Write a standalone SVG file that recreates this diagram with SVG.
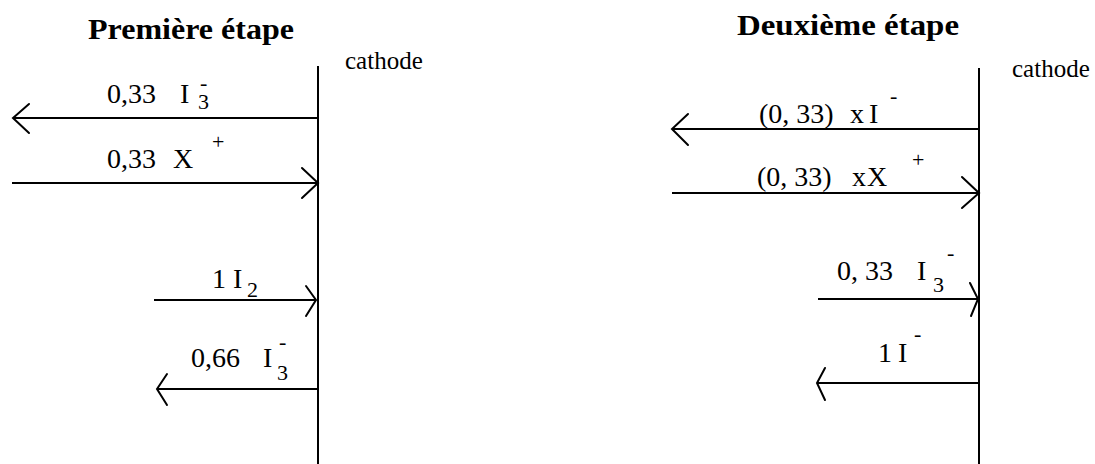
<svg xmlns="http://www.w3.org/2000/svg" width="1095" height="464" viewBox="0 0 1095 464">
<style>
text{font-family:'Liberation Serif','Times New Roman',serif;fill:#000}
.title{font-size:29px;font-weight:bold}
.cat{font-size:25px}
.lab{font-size:28px}
.s{font-size:22px}
.ln{stroke:#000;stroke-width:2;fill:none}
.hd{stroke:#000;stroke-width:2;fill:none;stroke-linecap:round;stroke-linejoin:miter}
</style>
<rect width="1095" height="464" fill="#fff"/>
<g id="stage1">
<text class="title" x="88" y="39" textLength="206" lengthAdjust="spacingAndGlyphs">Première étape</text>
<g id="cathode1">
<line class="ln" x1="318" y1="66" x2="318" y2="464"/>
<text class="cat" x="345" y="69">cathode</text>
</g>
<g id="label1a"><text class="lab"><tspan x="107" y="103">0,33</tspan><tspan x="180" y="103">I</tspan><tspan class="s" x="198" y="109">3</tspan><tspan class="s" x="200" y="90">-</tspan></text></g>
<g id="label1b"><text class="lab"><tspan x="107" y="168">0,33</tspan><tspan x="173" y="168">X</tspan><tspan class="s" x="212" y="149">+</tspan></text></g>
<g id="label1c"><text class="lab"><tspan x="212" y="288">1</tspan><tspan x="233" y="288">I</tspan><tspan class="s" x="247" y="297">2</tspan></text></g>
<g id="label1d"><text class="lab"><tspan x="191" y="367">0,66</tspan><tspan x="263" y="367">I</tspan><tspan class="s" x="277" y="380">3</tspan><tspan class="s" x="279" y="349">-</tspan></text></g>
</g>
<g id="stage2">
<text class="title" x="737" y="35" textLength="222" lengthAdjust="spacingAndGlyphs">Deuxième étape</text>
<g id="cathode2">
<line class="ln" x1="979" y1="68" x2="979" y2="464"/>
<text class="cat" x="1012" y="77">cathode</text>
</g>
<g id="label2a"><text class="lab"><tspan x="759" y="123">(0, 33)</tspan><tspan x="850" y="123">x</tspan><tspan x="869" y="123">I</tspan><tspan class="s" x="890" y="103">-</tspan></text></g>
<g id="label2b"><text class="lab"><tspan x="757" y="186">(0, 33)</tspan><tspan x="852" y="186">x</tspan><tspan x="867" y="186">X</tspan><tspan class="s" x="912" y="167">+</tspan></text></g>
<g id="label2c"><text class="lab"><tspan x="837" y="280">0, 33</tspan><tspan x="917" y="280">I</tspan><tspan class="s" x="933" y="292">3</tspan><tspan class="s" x="947" y="260">-</tspan></text></g>
<g id="label2d"><text class="lab"><tspan x="878" y="362">1</tspan><tspan x="898" y="362">I</tspan><tspan class="s" x="914" y="341">-</tspan></text></g>
</g>
<g id="connectors">
<line class="ln" x1="13" y1="118" x2="318" y2="118"/>
<polyline class="hd" points="29,104 13,118 29,133"/>
<line class="ln" x1="12" y1="183" x2="318" y2="183"/>
<polyline class="hd" points="302,168 318,183 302,198"/>
<line class="ln" x1="154" y1="300" x2="316" y2="300"/>
<polyline class="hd" points="306,286 316,300 306,316"/>
<line class="ln" x1="157" y1="389" x2="318" y2="389"/>
<polyline class="hd" points="167,374 157,389 167,405"/>
<line class="ln" x1="672" y1="129" x2="979" y2="129"/>
<polyline class="hd" points="688,114 672,129 688,145"/>
<line class="ln" x1="672" y1="193" x2="979" y2="193"/>
<polyline class="hd" points="962,177 979,193 962,208"/>
<line class="ln" x1="818" y1="299" x2="978" y2="299"/>
<polyline class="hd" points="970,283 978,299 971,316"/>
<line class="ln" x1="817" y1="383" x2="979" y2="383"/>
<polyline class="hd" points="825,368 817,383 825,400"/>
</g>
</svg>
